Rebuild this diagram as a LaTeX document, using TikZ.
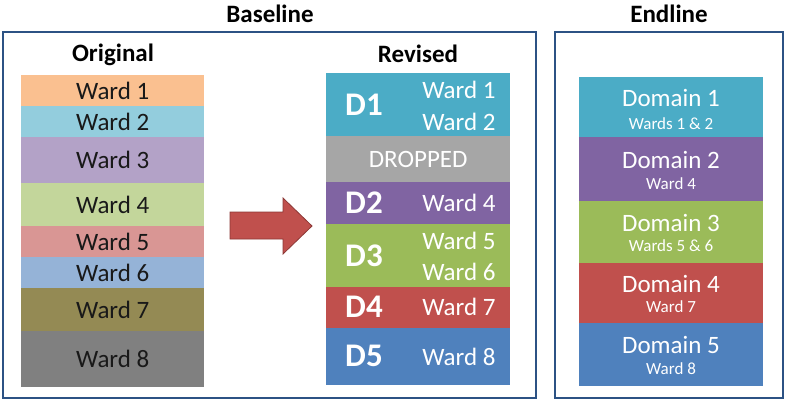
\documentclass[tikz,border=0pt]{standalone}
\usepackage{fontspec}
\setmainfont{Carlito}
\usetikzlibrary{positioning}

\definecolor{frameblue}{HTML}{2C5284}
\definecolor{wardA}{HTML}{FAC090}
\definecolor{wardB}{HTML}{93CDDD}
\definecolor{wardC}{HTML}{B3A2C7}
\definecolor{wardD}{HTML}{C3D69B}
\definecolor{wardE}{HTML}{D99694}
\definecolor{wardF}{HTML}{95B3D7}
\definecolor{wardG}{HTML}{948A54}
\definecolor{wardH}{HTML}{808080}
\definecolor{domA}{HTML}{4BACC6}
\definecolor{dropgray}{HTML}{A6A6A6}
\definecolor{domB}{HTML}{8064A2}
\definecolor{domC}{HTML}{9BBB59}
\definecolor{domD}{HTML}{C0504D}
\definecolor{domE}{HTML}{4F81BD}
\definecolor{arrowedge}{HTML}{8C3836}

\begin{document}
\begin{tikzpicture}[x=1pt,y=-1pt,
  title/.style={font=\fontsize{25}{28}\selectfont\bfseries},
  orig/.style={anchor=north west,inner sep=0pt,minimum width=183pt,
    font=\fontsize{25}{28}\selectfont,text=black!90},
  band/.style={anchor=north west,inner sep=0pt,minimum width=184pt},
  dlab/.style={text=white,font=\fontsize{33}{36}\selectfont\bfseries},
  wlab/.style={anchor=east,text=white,font=\fontsize{25}{28}\selectfont},
  biglab/.style={text=white,font=\fontsize{25}{28}\selectfont},
  smalllab/.style={text=white,font=\fontsize{17}{20}\selectfont},
  frame/.style={draw=frameblue,line width=2.2pt}]

\useasboundingbox (0,0) rectangle (787,404);

% frames and headings
\draw[frame] (3,32) rectangle (536,398);
\draw[frame] (555,32) rectangle (783,398);
\node[title] (baseline) at (270,14) {Baseline};
\node[title] (endline) at (669,14) {Endline};
\node[title] (original) at (113,55) {Original};
\node[title] (revised) at (418,54) {Revised};

% original wards
\node[orig,fill=wardA,minimum height=31pt] (w1) at (21,75) {Ward 1};
\node[orig,fill=wardB,minimum height=31pt] (w2) at (21,106) {Ward 2};
\node[orig,fill=wardC,minimum height=46pt] (w3) at (21,137) {Ward 3};
\node[orig,fill=wardD,minimum height=43pt] (w4) at (21,183) {Ward 4};
\node[orig,fill=wardE,minimum height=31pt] (w5) at (21,226) {Ward 5};
\node[orig,fill=wardF,minimum height=31pt] (w6) at (21,257) {Ward 6};
\node[orig,fill=wardG,minimum height=43pt] (w7) at (21,288) {Ward 7};
\node[orig,fill=wardH,minimum height=56pt] (w8) at (21,331) {Ward 8};

% arrow
\fill[domD,draw=arrowedge,line width=0.8pt] (230,212) -- (283,212) -- (283,198)
  -- (312,226) -- (283,254) -- (283,239) -- (230,239) -- cycle;

% revised domains
\node[band,fill=domA,minimum height=63pt] (r1) at (326,73) {};
\node[band,fill=dropgray,minimum height=46pt,text=white,
  font=\fontsize{25}{28}\selectfont] (drop) at (326,136) {DROPPED};
\node[band,fill=domB,minimum height=42pt] (r2) at (326,182) {};
\node[band,fill=domC,minimum height=63pt] (r3) at (326,224) {};
\node[band,fill=domD,minimum height=41pt] (r4) at (326,287) {};
\node[band,fill=domE,minimum height=57pt] (r5) at (326,328) {};

\node[dlab] (d1) at (364,105) {D1};
\node[dlab] (d2) at (364,203) {D2};
\node[dlab] (d3) at (364,256) {D3};
\node[dlab] (d4) at (364,307) {D4};
\node[dlab] (d5) at (364,356) {D5};

\node[wlab] (r1a) at (499,90) {Ward 1};
\node[wlab] (r1b) at (499,122) {Ward 2};
\node[wlab] (r2a) at (499,203) {Ward 4};
\node[wlab] (r3a) at (499,241) {Ward 5};
\node[wlab] (r3b) at (499,272) {Ward 6};
\node[wlab] (r4a) at (499,307) {Ward 7};
\node[wlab] (r5a) at (499,357) {Ward 8};

% endline domains
\node[band,fill=domA,minimum height=60pt] (e1) at (579,77) {};
\node[band,fill=domB,minimum height=64pt] (e2) at (579,137) {};
\node[band,fill=domC,minimum height=62pt] (e3) at (579,201) {};
\node[band,fill=domD,minimum height=60pt] (e4) at (579,263) {};
\node[band,fill=domE,minimum height=63pt] (e5) at (579,323) {};

\node[biglab] (e1t) at (671,98) {Domain 1};
\node[smalllab] (e1s) at (671,124) {Wards 1 \& 2};
\node[biglab] (e2t) at (671,160) {Domain 2};
\node[smalllab] (e2s) at (671,184) {Ward 4};
\node[biglab] (e3t) at (671,223) {Domain 3};
\node[smalllab] (e3s) at (671,246) {Wards 5 \& 6};
\node[biglab] (e4t) at (671,284) {Domain 4};
\node[smalllab] (e4s) at (671,307) {Ward 7};
\node[biglab] (e5t) at (671,345) {Domain 5};
\node[smalllab] (e5s) at (671,369) {Ward 8};

\end{tikzpicture}
\end{document}
